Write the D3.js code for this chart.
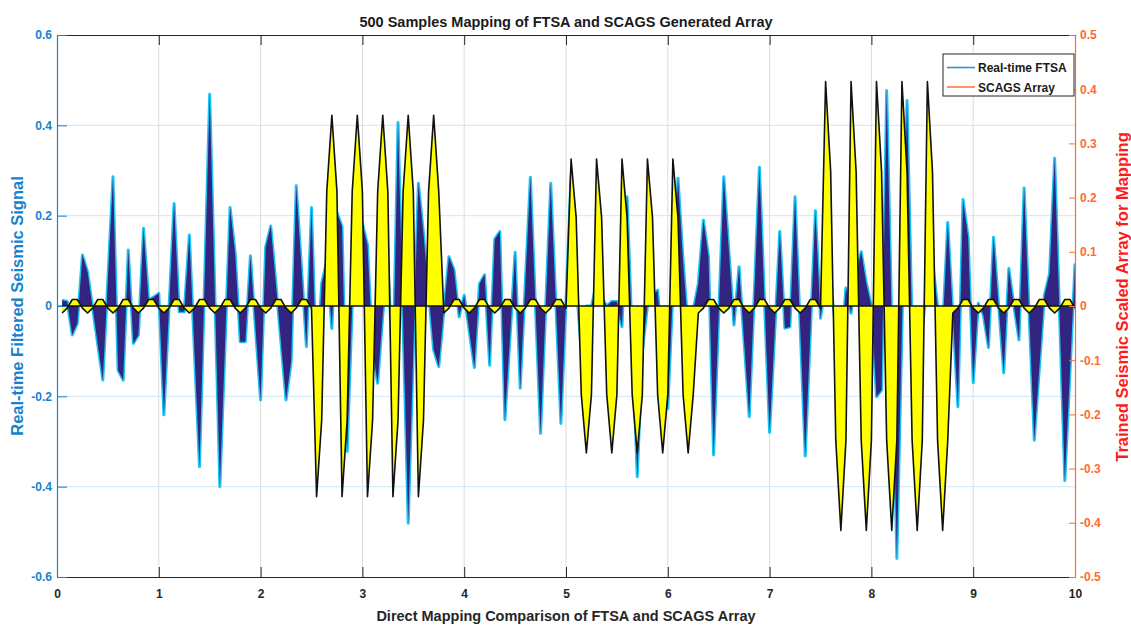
<!DOCTYPE html>
<html>
<head>
<meta charset="utf-8">
<script src="https://cdn.jsdelivr.net/npm/d3@7"></script>
<style>
  body { margin: 0; background: #fff; }
  svg { display: block; }
  text { font-family: "Liberation Sans", Arial, Helvetica, sans-serif; font-weight: bold; }
</style>
</head>
<body>
<svg id="chart" width="1131" height="626"></svg>
<script>
// ---- data ----
const sampleStep = 0.05;              // seconds between samples, first sample at t = 0.05
const xTicks = [0, 1, 2, 3, 4, 5, 6, 7, 8, 9, 10];
const leftTicks = [-0.6, -0.4, -0.2, 0, 0.2, 0.4, 0.6];
const leftTickLabels = ["-0.6", "-0.4", "-0.2", "0", "0.2", "0.4", "0.6"];
const rightTicks = [-0.5, -0.4, -0.3, -0.2, -0.1, 0, 0.1, 0.2, 0.3, 0.4, 0.5];
const rightTickLabels = ["-0.5", "-0.4", "-0.3", "-0.2", "-0.1", "0", "0.1", "0.2", "0.3", "0.4", "0.5"];
const seriesNames = ["Real-time FTSA", "SCAGS Array"];

// real-time filtered seismic signal (left axis), 10 samples per row
const ftsa = [
   0.013,  0.010, -0.064, -0.038,  0.113,  0.076, -0.004, -0.084, -0.164,  0.060,
   0.286, -0.142, -0.164,  0.124, -0.083, -0.064,  0.172,  0.013,  0.020,  0.028,
  -0.241, -0.007,  0.227, -0.013, -0.013,  0.157, -0.100, -0.356,  0.056,  0.469,
   0.030, -0.400, -0.090,  0.218,  0.117, -0.079, -0.079,  0.111, -0.050, -0.208,
   0.131,  0.177,  0.050, -0.080, -0.208, -0.123,  0.266,  0.090, -0.090,  0.218,
  -0.150,  0.050,  0.100, -0.050,  0.207,  0.176, -0.322,  0.000,  0.100,  0.183,
   0.135, -0.100, -0.171, -0.020,  0.100, -0.150,  0.406, -0.040, -0.481, -0.100,
   0.272,  0.160,  0.030, -0.097, -0.134, -0.010,  0.109,  0.080, -0.024,  0.024,
  -0.056, -0.136,  0.049,  0.069, -0.131,  0.148,  0.165, -0.252, -0.070,  0.119,
  -0.182,  0.050,  0.285,  0.000, -0.282, -0.005,  0.272,  0.006, -0.260,  0.010,
   0.290,  0.050, -0.100,  0.000,  0.000,  0.050,  0.020,  0.000,  0.010,  0.010,
  -0.046,  0.242, -0.070, -0.378, -0.100,  0.000,  0.020,  0.035, -0.100, -0.227,
   0.030,  0.283,  0.100, -0.050, -0.010,  0.050,  0.190,  0.109, -0.330, -0.020,
   0.286,  0.122, -0.042,  0.087, -0.080, -0.245,  0.030,  0.307,  0.010, -0.280,
  -0.060,  0.165, -0.049, -0.046,  0.242, -0.045, -0.332, -0.060,  0.211, -0.027,
   0.050,  0.050, -0.050, -0.100,  0.040, -0.016,  0.070,  0.120,  0.050,  0.000,
  -0.201, -0.186,  0.477, -0.040, -0.559, -0.050,  0.455, -0.050, -0.100, -0.050,
   0.050,  0.100,  0.000, -0.050,  0.185, -0.020, -0.223,  0.236,  0.153, -0.170,
   0.006, -0.020, -0.092,  0.152,  0.000, -0.148,  0.083,  0.000, -0.075,  0.261,
  -0.020, -0.297, -0.136,  0.024,  0.072,  0.327, -0.030, -0.387, -0.150,  0.094
];

// trained SCAGS array (right axis), one 0.25 s period per row
const scags = [
  -0.013, -0.004,  0.012,  0.012, -0.004,
  -0.013, -0.004,  0.012,  0.012, -0.004,
  -0.013, -0.004,  0.012,  0.012, -0.004,
  -0.013, -0.004,  0.012,  0.012, -0.004,
  -0.013, -0.004,  0.012,  0.012, -0.004,
  -0.013, -0.004,  0.012,  0.012, -0.004,
  -0.013, -0.004,  0.012,  0.012, -0.004,
  -0.013, -0.004,  0.012,  0.012, -0.004,
  -0.013, -0.004,  0.012,  0.012, -0.004,
  -0.013, -0.004,  0.012,  0.012, -0.004,
  -0.352, -0.211,  0.211,  0.352,  0.211,
  -0.352, -0.211,  0.211,  0.352,  0.211,
  -0.352, -0.211,  0.211,  0.352,  0.211,
  -0.352, -0.211,  0.211,  0.352,  0.211,
  -0.352, -0.211,  0.211,  0.352,  0.211,
  -0.013, -0.004,  0.012,  0.012, -0.004,
  -0.013, -0.004,  0.012,  0.012, -0.004,
  -0.013, -0.004,  0.012,  0.012, -0.004,
  -0.013, -0.004,  0.012,  0.012, -0.004,
  -0.013, -0.004,  0.012,  0.012, -0.004,
   0.271,  0.163, -0.163, -0.271, -0.163,
   0.271,  0.163, -0.163, -0.271, -0.163,
   0.271,  0.163, -0.163, -0.271, -0.163,
   0.271,  0.163, -0.163, -0.271, -0.163,
   0.271,  0.163, -0.163, -0.271, -0.163,
  -0.013, -0.004,  0.012,  0.012, -0.004,
  -0.013, -0.004,  0.012,  0.012, -0.004,
  -0.013, -0.004,  0.012,  0.012, -0.004,
  -0.013, -0.004,  0.012,  0.012, -0.004,
  -0.013, -0.004,  0.012,  0.012, -0.004,
   0.414,  0.248, -0.248, -0.414, -0.248,
   0.414,  0.248, -0.248, -0.414, -0.248,
   0.414,  0.248, -0.248, -0.414, -0.248,
   0.414,  0.248, -0.248, -0.414, -0.248,
   0.414,  0.248, -0.248, -0.414, -0.248,
  -0.013, -0.004,  0.012,  0.012, -0.004,
  -0.013, -0.004,  0.012,  0.012, -0.004,
  -0.013, -0.004,  0.012,  0.012, -0.004,
  -0.013, -0.004,  0.012,  0.012, -0.004,
  -0.013, -0.004,  0.012,  0.012, -0.004
];

// ---- layout ----
const plot = { left: 57, right: 1075, top: 35, bottom: 577 };
const colLeft = "#1682cc", colRight = "#ff6a33", colRightLabel = "#ff1a1a";

const svg = d3.select("#chart");
const x = d3.scaleLinear().domain([0, 10]).range([plot.left, plot.right]);
const yL = d3.scaleLinear().domain([-0.6, 0.6]).range([plot.bottom, plot.top]);
const yR = d3.scaleLinear().domain([-0.5, 0.5]).range([plot.bottom, plot.top]);

const ftsaPts = ftsa.map((v, i) => ({ t: (i + 1) * sampleStep, v }));
const scagsPts = scags.map((v, i) => ({ t: (i + 1) * sampleStep, v }));

// grid
const grid = svg.append("g");
grid.selectAll("line.gx").data(xTicks.slice(1, -1)).join("line")
  .attr("x1", d => x(d)).attr("x2", d => x(d))
  .attr("y1", plot.top).attr("y2", plot.bottom)
  .attr("stroke", "#dcdcdc").attr("stroke-width", 1);
grid.selectAll("line.gy").data(leftTicks.slice(1, -1)).join("line")
  .attr("x1", plot.left).attr("x2", plot.right)
  .attr("y1", d => yL(d)).attr("y2", d => yL(d))
  .attr("stroke", "#cfe6f6").attr("stroke-width", 1);

// clip to the axes box
svg.append("clipPath").attr("id", "box").append("rect")
  .attr("x", plot.left).attr("y", plot.top)
  .attr("width", plot.right - plot.left).attr("height", plot.bottom - plot.top);
const marks = svg.append("g").attr("clip-path", "url(#box)");

// FTSA: cyan edge under a dark indigo filled area
const ftsaLine = d3.line().x(d => x(d.t)).y(d => yL(d.v));
const ftsaArea = d3.area().x(d => x(d.t)).y0(yL(0)).y1(d => yL(d.v));
marks.append("path").datum(ftsaPts).attr("d", ftsaLine)
  .attr("fill", "none").attr("stroke", "#1cc3f2").attr("stroke-width", 3)
  .attr("stroke-linejoin", "round");
marks.append("path").datum(ftsaPts).attr("d", ftsaArea)
  .attr("fill", "#32247f").attr("stroke", "none");

// baseline of the right-axis area
marks.append("line")
  .attr("x1", x(0)).attr("x2", x(sampleStep))
  .attr("y1", yR(0)).attr("y2", yR(0))
  .attr("stroke", colRight).attr("stroke-width", 1.5);

// SCAGS: yellow area with black edge
const scagsArea = d3.area().x(d => x(d.t)).y0(yR(0)).y1(d => yR(d.v));
const scagsLine = d3.line().x(d => x(d.t)).y(d => yR(d.v));
marks.append("path").datum(scagsPts).attr("d", scagsArea)
  .attr("fill", "#ffff00").attr("stroke", "none");
marks.append("line")
  .attr("x1", x(sampleStep)).attr("x2", x(10))
  .attr("y1", yR(0)).attr("y2", yR(0))
  .attr("stroke", "#111").attr("stroke-width", 1.6);
marks.append("path").datum(scagsPts).attr("d", scagsLine)
  .attr("fill", "none").attr("stroke", "#111").attr("stroke-width", 1.6)
  .attr("stroke-linejoin", "round");

// ---- axes ----
const fontPx = 12;
const axB = svg.append("g").attr("transform", `translate(0,${plot.bottom})`)
  .call(d3.axisBottom(x).tickValues(xTicks).tickSize(-10).tickPadding(12).tickSizeOuter(0).tickFormat(d => String(d)));
const axT = svg.append("g").attr("transform", `translate(0,${plot.top})`)
  .call(d3.axisTop(x).tickValues(xTicks).tickSize(-10).tickSizeOuter(0).tickFormat(""));
[axB, axT].forEach(g => {
  g.select(".domain").attr("stroke", "#262626").attr("stroke-width", 1.2);
  g.selectAll(".tick line").attr("stroke", "#262626");
});
axB.selectAll("text").attr("fill", "#262626").style("font-size", fontPx + "px");

const axL = svg.append("g").attr("transform", `translate(${plot.left},0)`)
  .call(d3.axisLeft(yL).tickValues(leftTicks).tickSize(-10).tickPadding(5).tickSizeOuter(0)
    .tickFormat((d, i) => leftTickLabels[i]));
axL.select(".domain").attr("stroke", colLeft).attr("stroke-width", 1.2);
axL.selectAll(".tick line").attr("stroke", colLeft);
axL.selectAll("text").attr("fill", colLeft).style("font-size", fontPx + "px");

const axR = svg.append("g").attr("transform", `translate(${plot.right},0)`)
  .call(d3.axisRight(yR).tickValues(rightTicks).tickSize(-6).tickPadding(5).tickSizeOuter(0)
    .tickFormat((d, i) => rightTickLabels[i]));
axR.select(".domain").attr("stroke", colRight).attr("stroke-width", 1.2);
axR.selectAll(".tick line").attr("stroke", colRight);
axR.selectAll("text").attr("fill", colRight).style("font-size", fontPx + "px");

// ---- titles ----
const midX = (plot.left + plot.right) / 2;
const midY = (plot.top + plot.bottom) / 2;
svg.append("text").attr("x", midX).attr("y", 27).attr("text-anchor", "middle")
  .attr("fill", "#1a1a1a").style("font-size", "14.5px")
  .text("500 Samples Mapping of FTSA and SCAGS Generated Array");
svg.append("text").attr("x", midX).attr("y", 621).attr("text-anchor", "middle")
  .attr("fill", "#262626").style("font-size", "14.5px")
  .text("Direct Mapping Comparison of FTSA and SCAGS Array");
svg.append("text").attr("transform", `translate(23,${midY}) rotate(-90)`)
  .attr("text-anchor", "middle").attr("fill", colLeft).style("font-size", "16.5px")
  .text("Real-time Filtered Seismic Signal");
svg.append("text").attr("transform", `translate(1128,${midY - 9}) rotate(-90)`)
  .attr("text-anchor", "middle").attr("fill", colRightLabel).style("font-size", "16.5px")
  .text("Trained Seismic Scaled Array for Mapping");

// ---- legend ----
const lg = svg.append("g").attr("transform", "translate(943,54)");
lg.append("rect").attr("width", 131).attr("height", 42)
  .attr("fill", "#fff").attr("stroke", "#262626").attr("stroke-width", 1);
const legendColors = ["#2f95d8", "#ff7a45"];
seriesNames.forEach((name, i) => {
  const yy = 13.5 + i * 19.5;
  lg.append("line").attr("x1", 4).attr("x2", 32).attr("y1", yy).attr("y2", yy)
    .attr("stroke", legendColors[i]).attr("stroke-width", 1.6);
  lg.append("text").attr("x", 35).attr("y", yy + 4.5).attr("fill", "#1a1a1a")
    .style("font-size", "12px").text(name);
});
</script>
</body>
</html>
